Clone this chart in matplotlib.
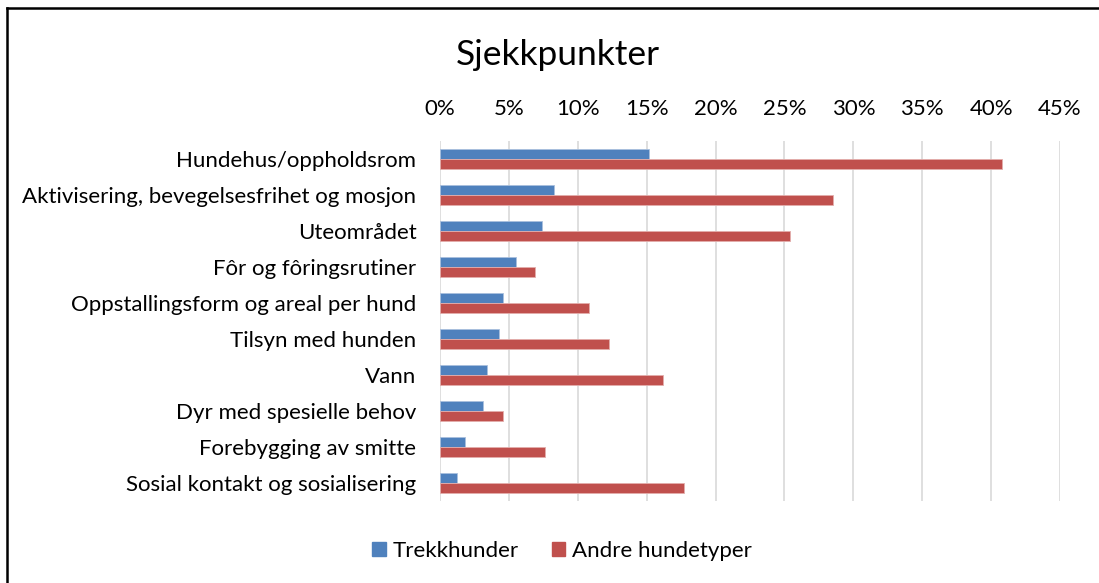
import numpy as np
import matplotlib.pyplot as plt
from matplotlib.patches import Patch
from matplotlib.lines import Line2D

plt.rcParams['font.family'] = ['Lato', 'DejaVu Sans']

#categories, top to bottom
categories = [
    'Hundehus/oppholdsrom',
    'Aktivisering, bevegelsesfrihet og mosjon',
    'Uteområdet',
    'Fôr og fôringsrutiner',
    'Oppstallingsform og areal per hund',
    'Tilsyn med hunden',
    'Vann',
    'Dyr med spesielle behov',
    'Forebygging av smitte',
    'Sosial kontakt og sosialisering',
]
#share of inspections (%)
trekkhunder = [15.2, 8.3, 7.4, 5.5, 4.6, 4.3, 3.4, 3.1, 1.8, 1.2]
andre_hundetyper = [40.8, 28.5, 25.4, 6.9, 10.8, 12.3, 16.2, 4.6, 7.6, 17.7]
x_ticks = [0, 5, 10, 15, 20, 25, 30, 35, 40, 45]

BLUE = '#4F81BD'
RED = '#C0504D'

fig = plt.figure(figsize=(10.99, 5.83), dpi=100, facecolor='white')
ax = fig.add_axes([440 / 1099, 82 / 583, 620 / 1099, 360 / 583])

y = np.arange(len(categories))
h = 0.265
ax.barh(y - h / 2, trekkhunder, height=h, color=BLUE, edgecolor='#A9C0DE', linewidth=0.6, zorder=3)
ax.barh(y + h / 2, andre_hundetyper, height=h, color=RED, edgecolor='#E3AEAC', linewidth=0.6, zorder=3)

ax.set_xlim(0, 45)
ax.set_ylim(len(categories) - 0.5, -0.5)
ax.set_xticks(x_ticks)
ax.set_xticklabels([f'{t}%' for t in x_ticks])
ax.xaxis.tick_top()
ax.set_yticks(y)
ax.set_yticklabels(categories)
ax.tick_params(axis='x', length=0, pad=16, labelsize=16, colors='#000000')
ax.tick_params(axis='y', length=0, pad=17, labelsize=16, colors='#000000')
ax.grid(axis='x', color='#D9D9D9', linewidth=1.2, zorder=0)
for s in ax.spines.values():
    s.set_visible(False)

fig.text(558 / 1099, 1 - 55 / 583, 'Sjekkpunkter', ha='center', va='center', fontsize=25.5)

handles = [Patch(facecolor=BLUE, edgecolor=BLUE), Patch(facecolor=RED, edgecolor=RED)]
fig.legend(handles, ['Trekkhunder', 'Andre hundetyper'], loc='center',
           bbox_to_anchor=(562 / 1099, 1 - 551 / 583), ncol=2, frameon=False,
           fontsize=16, handlelength=0.6, handleheight=0.6, handletextpad=0.3,
           columnspacing=1.5)

#outer frame (left and top edges)
fig.add_artist(Line2D([7 / 1099, 7 / 1099], [0, 1 - 8 / 583], color='black', linewidth=1.8,
                      transform=fig.transFigure))
fig.add_artist(Line2D([7 / 1099, 1], [1 - 8 / 583, 1 - 8 / 583], color='black', linewidth=1.8,
                      transform=fig.transFigure))

fig.savefig('out.png', dpi=100, facecolor='white')
